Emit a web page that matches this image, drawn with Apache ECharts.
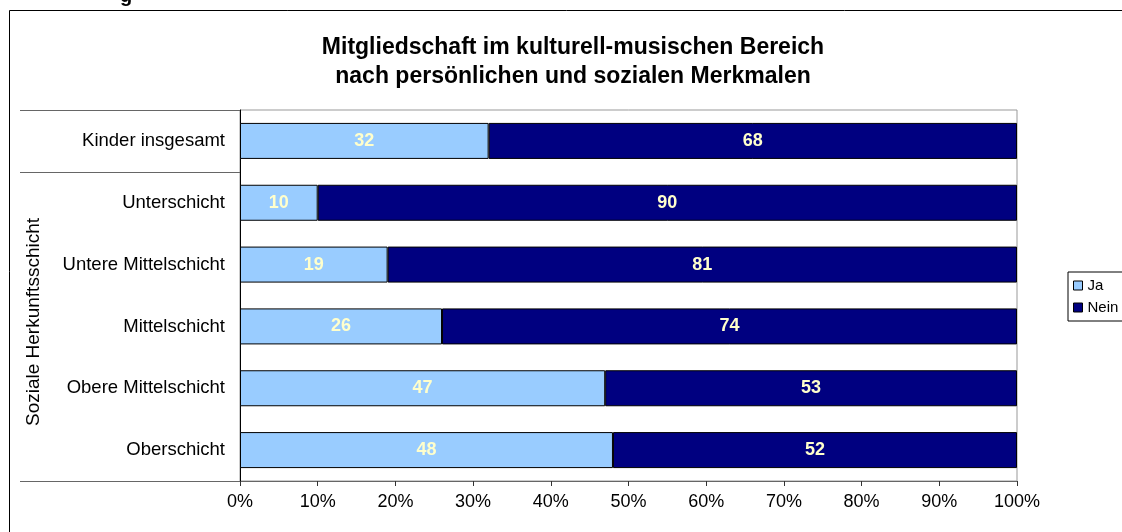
<!DOCTYPE html>
<html>
<head>
<meta charset="utf-8">
<script src="https://cdn.jsdelivr.net/npm/echarts@6/dist/echarts.min.js"></script>
<style>html,body{margin:0;padding:0;background:#fff}#c{width:1122px;height:532px}</style>
</head>
<body>
<div id="c"></div>
<script>
var categories = ['Kinder insgesamt','Unterschicht','Untere Mittelschicht','Mittelschicht','Obere Mittelschicht','Oberschicht'];
var ja = [32,10,19,26,47,48];
var nein = [68,90,81,74,53,52];
var xTicks = {min:0, max:100, interval:10};

var chart = echarts.init(document.getElementById('c'), null, {renderer:'canvas'});
var F = 'Liberation Sans, Arial, sans-serif';
var lbl = {show:true, position:'inside', color:'#ffffcc', fontWeight:'bold', fontSize:18, fontFamily:F};
chart.setOption({
  animation:false,
  title:{text:'Mitgliedschaft im kulturell-musischen Bereich\nnach persönlichen und sozialen Merkmalen',
    left:568, top:28, textAlign:'center',
    textStyle:{fontFamily:F, fontWeight:'bold', fontSize:23, color:'#000', lineHeight:29}},
  legend:{orient:'vertical', left:1068, top:272, icon:'rect', itemWidth:9, itemHeight:9, itemGap:7,
    borderColor:'#000', borderWidth:1, padding:[6,20,6,5],
    textStyle:{fontFamily:F, fontSize:15, color:'#000', padding:[0,0,0,0]},
    data:[{name:'Ja', itemStyle:{borderColor:'#000',borderWidth:1}},{name:'Nein', itemStyle:{borderColor:'#000',borderWidth:1}}]},
  grid:{left:240, right:105, top:110, bottom:51, show:true, borderColor:'#999', borderWidth:1},
  xAxis:{type:'value', min:xTicks.min, max:xTicks.max, interval:xTicks.interval,
    axisLine:{show:true, lineStyle:{color:'#666'}},
    axisTick:{show:true, length:5, lineStyle:{color:'#333'}},
    splitLine:{show:false},
    axisLabel:{formatter:'{value}%', fontFamily:F, fontSize:18, color:'#000', margin:12}},
  yAxis:{type:'category', data:categories, inverse:true,
    axisLine:{show:true, lineStyle:{color:'#000'}},
    axisTick:{show:false},
    axisLabel:{fontFamily:F, fontSize:18.5, color:'#000', margin:15}},
  graphic:[
    {type:'rect', shape:{x:9.5,y:10.5,width:1200,height:600}, style:{fill:null, stroke:'#000', lineWidth:1}, z:-1},
    {type:'line', shape:{x1:20,y1:110.5,x2:240,y2:110.5}, style:{stroke:'#666', lineWidth:1}},
    {type:'line', shape:{x1:20,y1:172.5,x2:240,y2:172.5}, style:{stroke:'#666', lineWidth:1}},
    {type:'line', shape:{x1:20,y1:481.5,x2:240,y2:481.5}, style:{stroke:'#666', lineWidth:1}},
    {type:'text', x:34, y:322, rotation:Math.PI/2, style:{text:'Soziale Herkunftsschicht', font:'19px '+F, fill:'#000', align:'center', verticalAlign:'middle'}},
    {type:'text', x:126, y:6, style:{text:'g', font:'bold 20px '+F, fill:'#000', align:'center', verticalAlign:'bottom'}}
  ],
  series:[
    {name:'Ja', type:'bar', stack:'a', data:ja, barWidth:36, label:lbl,
      itemStyle:{color:'#99ccff', borderColor:'#000', borderWidth:1}},
    {name:'Nein', type:'bar', stack:'a', data:nein, barWidth:36, label:lbl,
      itemStyle:{color:'#000080', borderColor:'#000', borderWidth:1}}
  ]
});
</script>
</body>
</html>
